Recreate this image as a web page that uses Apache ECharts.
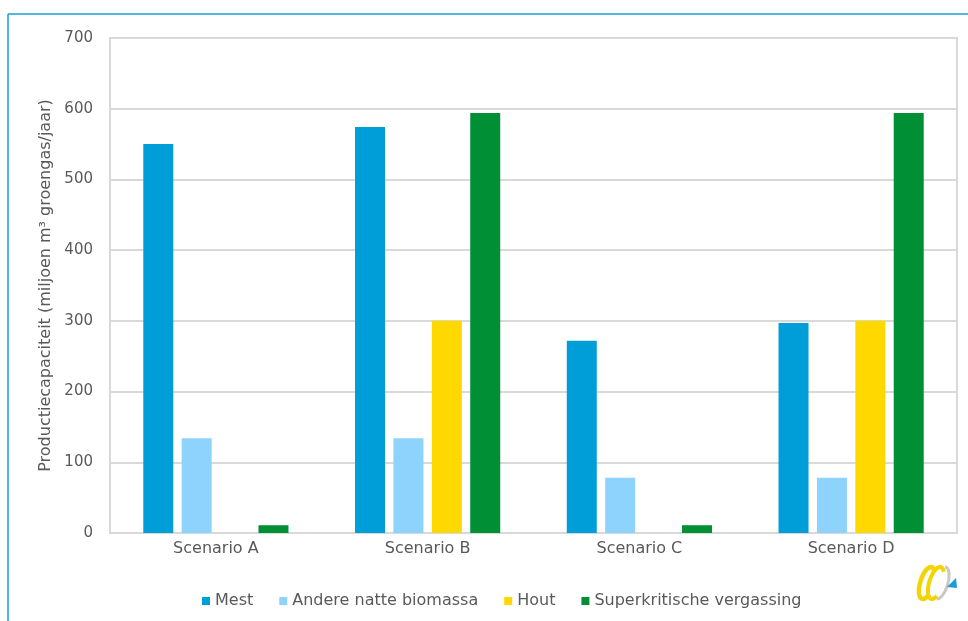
<!DOCTYPE html>
<html>
<head>
<meta charset="utf-8">
<script src="https://cdn.jsdelivr.net/npm/echarts@6/dist/echarts.min.js"></script>
<style>
  html, body { margin: 0; padding: 0; background: #ffffff; }
  #chart { width: 968px; height: 621px; }
</style>
</head>
<body>
<div id="chart"></div>
<script>
// Scenario categories and production capacity per feedstock (million m³ green gas / year)
const scenarios = ['Scenario A', 'Scenario B', 'Scenario C', 'Scenario D'];
const mest = [550, 574, 272, 297];
const andereNatteBiomassa = [134, 134, 78, 78];
const hout = [null, 300, null, 300];
const superkritischeVergassing = [11, 594, 11, 594];
const yTicks = [0, 100, 200, 300, 400, 500, 600, 700];

const seriesNames = ['Mest', 'Andere natte biomassa', 'Hout', 'Superkritische vergassing'];
const seriesColors = ['#009ed9', '#8ed2fe', '#ffd800', '#008f35'];
const seriesData = [mest, andereNatteBiomassa, hout, superkritischeVergassing];

const textColor = '#595959';
const gridColor = '#d9d9d9';
const fontFamily = '"DejaVu Sans", Verdana, sans-serif';

// open elliptical stroke for the logo (slanted loop)
function loopPoints(cx, cy, rx, ry, a0, a1, tilt) {
  const pts = [];
  const steps = 40;
  for (let k = 0; k <= steps; k++) {
    const a = a0 + (a1 - a0) * k / steps;
    const x = rx * Math.cos(a);
    const y = ry * Math.sin(a);
    pts.push([cx + x + y * tilt, cy + y]);
  }
  return pts;
}

const chart = echarts.init(document.getElementById('chart'), null, { renderer: 'canvas' });

chart.setOption({
  backgroundColor: '#ffffff',
  animation: false,
  textStyle: { fontFamily: fontFamily, color: textColor },
  grid: {
    left: 110, right: 11, top: 38, bottom: 88,
    show: true, borderColor: gridColor, borderWidth: 2, backgroundColor: 'transparent'
  },
  legend: {
    data: seriesNames,
    left: 197,
    top: 588,
    itemWidth: 8,
    itemHeight: 8,
    itemGap: 26,
    icon: 'rect',
    textStyle: { fontFamily: fontFamily, fontSize: 16, color: textColor }
  },
  xAxis: {
    type: 'category',
    data: scenarios,
    axisLine: { show: true, lineStyle: { color: gridColor, width: 2 } },
    axisTick: { show: false },
    axisLabel: { fontFamily: fontFamily, fontSize: 16, color: textColor, margin: 8 }
  },
  yAxis: {
    type: 'value',
    min: yTicks[0],
    max: yTicks[yTicks.length - 1],
    interval: yTicks[1] - yTicks[0],
    name: 'Productiecapaciteit (miljoen m³ groengas/jaar)',
    nameLocation: 'middle',
    nameGap: 55,
    nameTextStyle: { fontFamily: fontFamily, fontSize: 16, color: textColor },
    axisLine: { show: false },
    axisTick: { show: false },
    axisLabel: { fontFamily: fontFamily, fontSize: 15, color: textColor, margin: 17 },
    splitLine: { show: true, lineStyle: { color: gridColor, width: 2 } }
  },
  series: seriesNames.map((name, i) => ({
    name: name,
    type: 'bar',
    data: seriesData[i],
    barWidth: 30,
    barGap: '28%',
    itemStyle: { color: seriesColors[i] }
  })),
  graphic: [
    // frame lines around the figure
    { type: 'line', shape: { x1: 8, y1: 14, x2: 968, y2: 14 }, style: { stroke: '#1a9cd8', lineWidth: 1.5 }, silent: true },
    { type: 'line', shape: { x1: 8, y1: 14, x2: 8, y2: 621 }, style: { stroke: '#1a9cd8', lineWidth: 1.5 }, silent: true },
    // logo: two yellow loops, a grey loop and a blue triangle
    { type: 'polyline', silent: true, shape: { points: loopPoints(927, 583, 7, 16, Math.PI * 0.3, Math.PI * 1.75, -0.25) }, style: { fill: 'none', stroke: '#f2d500', lineWidth: 4.5 } },
    { type: 'polyline', silent: true, shape: { points: loopPoints(936, 583, 7, 16, Math.PI * 0.3, Math.PI * 1.75, -0.25) }, style: { fill: 'none', stroke: '#f2d500', lineWidth: 4 } },
    { type: 'polyline', silent: true, shape: { points: loopPoints(941, 583, 7, 16, -Math.PI * 0.5, Math.PI * 0.5, -0.25) }, style: { fill: 'none', stroke: '#c8c8c8', lineWidth: 3 } },
    { type: 'polygon', silent: true, shape: { points: [[947, 587], [956, 578], [957, 588]] }, style: { fill: '#1a9cd8' } }
  ]
});
</script>
</body>
</html>
